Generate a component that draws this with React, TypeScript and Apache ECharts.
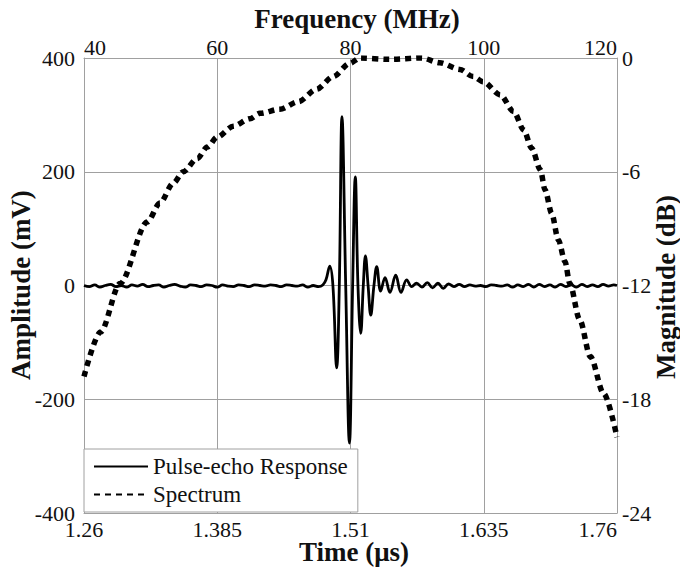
import React, { useEffect, useRef } from "react";
import * as echarts from "echarts";

const T0 = 1.26;
const timeTicks = [1.26, 1.385, 1.51, 1.635, 1.76];

const pulseTimes = [
  1.26, 1.265, 1.27, 1.275, 1.28, 1.285, 1.29, 1.295, 1.3, 1.305, 1.31, 1.315, 1.32, 1.325, 1.33, 1.335,
  1.34, 1.345, 1.35, 1.355, 1.36, 1.365, 1.37, 1.375, 1.38, 1.385, 1.39, 1.395, 1.4, 1.405, 1.41, 1.415,
  1.42, 1.425, 1.43, 1.435, 1.44, 1.445, 1.45, 1.455, 1.46, 1.465, 1.47, 1.475, 1.48, 1.484, 1.487,
  1.4905, 1.4935, 1.497, 1.4995, 1.502, 1.5055, 1.509, 1.512, 1.5145, 1.517, 1.5196, 1.522, 1.524,
  1.5265, 1.529, 1.532, 1.5346, 1.5383, 1.5424, 1.547, 1.5524, 1.5574, 1.5627, 1.5674, 1.572, 1.577,
  1.582, 1.587, 1.592, 1.597, 1.602, 1.607, 1.612, 1.617, 1.622, 1.627, 1.632, 1.637, 1.642, 1.647,
  1.652, 1.657, 1.662, 1.667, 1.672, 1.677, 1.682, 1.687, 1.692, 1.697, 1.702, 1.707, 1.712, 1.717,
  1.722, 1.727, 1.732, 1.737, 1.742, 1.747, 1.752, 1.757, 1.76,
];
const pulseValues = [
  0, -2, 1, -3, 0, 2, -2, 0, -3, 1, -1, 2, -2, 0, 1, -3,
  0, 2, -1, -3, 1, 0, -2, 1, 0, -3, 1, -1, -2, 1, 0, -2,
  1, 0, -1, 1, 0, -2, 1, 0, -1, 1, -3, 0, -2, 1, 10,
  34, 0, -145, 0, 297, 0, -277, 0, 191, 0, -84, 0, 52,
  0, -52, 0, 33, -10, 14, -12, 18, -12, 10, -2, 4, -3,
  5, -4, 4, -5, 3, -2, 2, -2, 1, -1, 0, -2, 1, 0,
  -1, 1, -3, 1, -2, 2, -3, 2, -2, 1, -3, 2, -2, 1,
  -3, 2, -2, 1, -2, 2, -1, 1, 0,
];

const specFreq = [
  40, 42.5, 45.4, 49.5, 51.4, 53.4, 54.9, 57, 58.5, 60, 62.4, 64.9, 66.4, 69.4, 72.2, 74.9, 77.4, 79.9,
  81.4, 85.9, 90.7, 93.4, 96.4, 98.4, 99.9, 102.5, 104.5, 106, 107.2, 108.5, 109.2, 110.2, 111.2, 112.2,
  112.9, 114.4, 116, 118, 120,
];
const specDb = [
  -16.8, -14.45, -11.9, -8.65, -7.65, -6.6, -6.0, -5.3, -4.7, -4.17, -3.6, -3.2, -2.92, -2.7, -2.3, -1.65,
  -0.98, -0.28, 0, -0.07, 0, -0.25, -0.6, -0.98, -1.25, -1.95, -2.83, -3.8, -4.76, -5.9, -6.96, -8.2,
  -9.6, -10.74, -11.88, -13.8, -15.75, -17.7, -20,
];

const SERIF = "Liberation Serif";
const GRID = "#a0a0a0";

export default function App() {
  const ref = useRef<HTMLDivElement>(null);
  useEffect(() => {
    if (!ref.current) return;
    const chart = echarts.init(ref.current, undefined, { renderer: "svg" });
    const labelStyle = { fontFamily: SERIF, fontSize: 22, color: "#111" };
    const titleStyle = { fontFamily: SERIF, fontSize: 27, fontWeight: "bold" as const, fill: "#111" };
    chart.setOption({
      animation: false,
      backgroundColor: "#fff",
      textStyle: { fontFamily: SERIF },
      grid: { left: 84, right: 63, top: 58, bottom: 54, containLabel: false },
      xAxis: [
        {
          type: "value",
          position: "bottom",
          min: 0,
          max: timeTicks[timeTicks.length - 1] - T0,
          interval: 0.125,
          axisLine: { onZero: false, lineStyle: { color: GRID, width: 1 } },
          axisTick: { show: false },
          splitLine: { show: true, lineStyle: { color: GRID, width: 1 } },
          axisLabel: {
            ...labelStyle,
            margin: 5,
            alignMaxLabel: "right",
            formatter: (v: number) => String(+(v + T0).toFixed(3)),
          },
        },
        {
          type: "value",
          position: "top",
          min: 40,
          max: 120,
          interval: 20,
          axisLine: { onZero: false, lineStyle: { color: GRID, width: 1 } },
          axisTick: { show: false },
          splitLine: { show: false },
          axisLabel: { ...labelStyle, margin: 0, alignMinLabel: "left", alignMaxLabel: "right" },
        },
      ],
      yAxis: [
        {
          type: "value",
          position: "left",
          min: -400,
          max: 400,
          interval: 200,
          axisLine: { onZero: false, lineStyle: { color: GRID, width: 1 } },
          axisTick: { show: false },
          splitLine: { show: true, lineStyle: { color: GRID, width: 1 } },
          axisLabel: { ...labelStyle, margin: 9 },
        },
        {
          type: "value",
          position: "right",
          min: -24,
          max: 0,
          interval: 6,
          axisLine: { onZero: false, lineStyle: { color: GRID, width: 1 } },
          axisTick: { show: false },
          splitLine: { show: false },
          axisLabel: { ...labelStyle, margin: 5 },
        },
      ],
      legend: {
        orient: "vertical",
        left: 84,
        top: 449,
        padding: [6, 10, 6, 9],
        itemGap: 5,
        itemWidth: 54,
        itemHeight: 14,
        backgroundColor: "#fff",
        borderColor: GRID,
        borderWidth: 1,
        borderRadius: 0,
        itemStyle: { color: "transparent", borderWidth: 0, opacity: 0 },
        textStyle: { fontFamily: SERIF, fontSize: 23, color: "#111" },
        data: ["Pulse-echo Response", "Spectrum"],
      },
      series: [
        {
          name: "Pulse-echo Response",
          type: "line",
          xAxisIndex: 0,
          yAxisIndex: 0,
          symbol: "none",
          smooth: 0.4,
          lineStyle: { color: "#000", width: 2.8 },
          itemStyle: { color: "#000" },
          data: pulseTimes.map((t, i) => [t - T0, pulseValues[i]]),
          z: 2,
        },
        {
          name: "Spectrum",
          type: "line",
          xAxisIndex: 1,
          yAxisIndex: 1,
          symbol: "none",
          smooth: 0.3,
          smoothMonotone: "x",
          lineStyle: { color: "#000", width: 5.5, type: [6, 5], cap: "butt" },
          itemStyle: { color: "#000" },
          data: specFreq.map((f, i) => [f, specDb[i]]),
          z: 3,
        },
      ],
      graphic: [
        {
          type: "text",
          x: 357,
          y: 19,
          style: { text: "Frequency (MHz)", ...titleStyle, align: "center", verticalAlign: "middle" },
        },
        {
          type: "text",
          x: 354,
          y: 552,
          style: { text: "Time (\u03bcs)", ...titleStyle, align: "center", verticalAlign: "middle" },
        },
        {
          type: "text",
          x: 21,
          y: 285,
          rotation: Math.PI / 2,
          style: { text: "Amplitude (mV)", ...titleStyle, align: "center", verticalAlign: "middle" },
        },
        {
          type: "text",
          x: 666,
          y: 287,
          rotation: Math.PI / 2,
          style: { text: "Magnitude (dB)", ...titleStyle, align: "center", verticalAlign: "middle" },
        },
      ],
    });
    return () => chart.dispose();
  }, []);
  return <div ref={ref} style={{ width: 680, height: 567, position: "absolute", left: 0, top: 0 }} />;
}
